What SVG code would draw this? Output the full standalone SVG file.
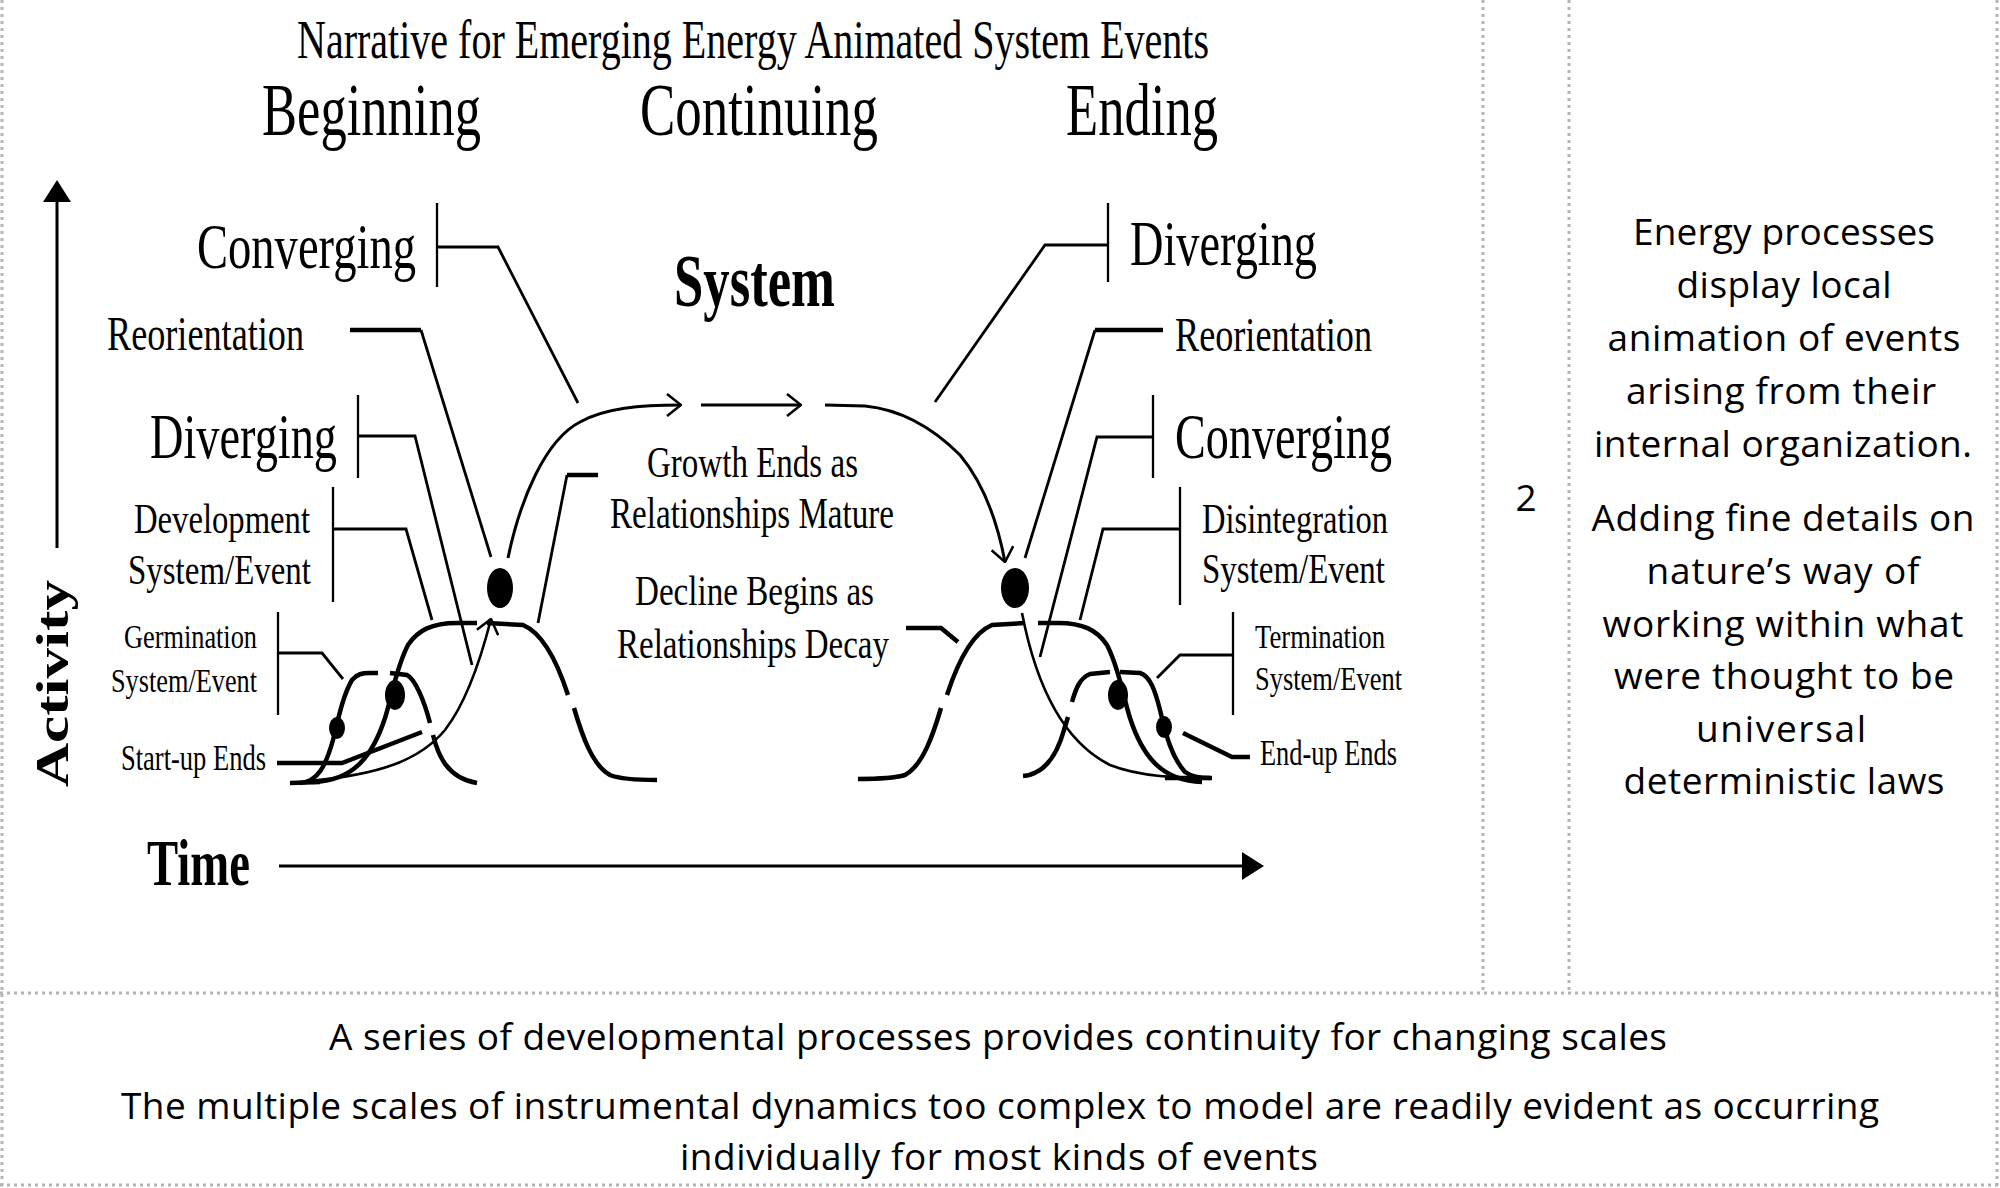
<svg xmlns="http://www.w3.org/2000/svg" width="2000" height="1188" viewBox="0 0 2000 1188">
<style>
.bg{fill:#ffffff}
.grid{stroke:#b4b4b4;stroke-width:3;stroke-dasharray:3 4;fill:none}
.ser{font-family:"Liberation Serif","Times New Roman",serif;fill:#000}
.bold{font-weight:bold}
.sans{font-family:"Open Sans","Liberation Sans",sans-serif;fill:#000;font-size:37px}
.ln{stroke:#000;fill:none;stroke-linecap:butt;stroke-linejoin:miter}
.br{stroke-width:2.3}
.ld{stroke-width:2.8}
.hv{stroke-width:4.5}
.cv{stroke-width:4.5}
.tn{stroke-width:2.6}
.ar{stroke-width:3}
.dot{fill:#000}
</style>
<defs>
<marker id="vArrow" viewBox="0 0 16 24" refX="15" refY="12" markerWidth="16" markerHeight="24" markerUnits="userSpaceOnUse" orient="auto"><path d="M1,1 L15,12 L1,23" fill="none" stroke="#000" stroke-width="2.5"/></marker>
<marker id="axisArrow" viewBox="0 0 22 28" refX="1" refY="14" markerWidth="22" markerHeight="28" markerUnits="userSpaceOnUse" orient="auto"><path d="M0,0 L22,14 L0,28 Z" fill="#000"/></marker>
</defs>
<rect class="bg" x="0" y="0" width="2000" height="1188"/>

<g id="table-grid">
<line class="grid" x1="2" y1="0" x2="2" y2="1186"/>
<line class="grid" x1="1997" y1="0" x2="1997" y2="1186"/>
<line class="grid" x1="1483" y1="0" x2="1483" y2="993"/>
<line class="grid" x1="1569" y1="0" x2="1569" y2="993"/>
<line class="grid" x1="0" y1="993" x2="2000" y2="993"/>
<line class="grid" x1="0" y1="1185" x2="2000" y2="1185"/>
</g>

<g id="title"><text class="ser" x="297" y="58" font-size="54" textLength="912" lengthAdjust="spacingAndGlyphs">Narrative for Emerging Energy Animated System Events</text></g>
<g id="phase-beginning"><text class="ser" x="262" y="135" font-size="74" textLength="219" lengthAdjust="spacingAndGlyphs">Beginning</text></g>
<g id="phase-continuing"><text class="ser" x="640" y="135" font-size="74" textLength="238" lengthAdjust="spacingAndGlyphs">Continuing</text></g>
<g id="phase-ending"><text class="ser" x="1066" y="135" font-size="74" textLength="152" lengthAdjust="spacingAndGlyphs">Ending</text></g>

<g id="axis-activity"><text class="ser bold" transform="translate(68,787) rotate(-90)" font-size="47" textLength="207" lengthAdjust="spacingAndGlyphs">Activity</text></g>
<g id="axis-time"><text class="ser bold" x="147" y="885" font-size="65" textLength="103" lengthAdjust="spacingAndGlyphs">Time</text></g>

<g id="system-label"><text class="ser bold" x="674" y="306" font-size="74" textLength="161" lengthAdjust="spacingAndGlyphs">System</text></g>

<g id="left-converging"><text class="ser" x="197" y="268" font-size="64" textLength="219" lengthAdjust="spacingAndGlyphs">Converging</text><line class="ln br" x1="437" y1="203" x2="437" y2="287"/></g>
<g id="left-reorientation"><text class="ser" x="107" y="350" font-size="48" textLength="197" lengthAdjust="spacingAndGlyphs">Reorientation</text></g>
<g id="left-diverging"><text class="ser" x="150" y="458" font-size="64" textLength="187" lengthAdjust="spacingAndGlyphs">Diverging</text><line class="ln br" x1="358" y1="395" x2="358" y2="478"/></g>
<g id="left-development"><text class="ser" x="134" y="533" font-size="42" textLength="176" lengthAdjust="spacingAndGlyphs">Development</text><text class="ser" x="128" y="584" font-size="42" textLength="183" lengthAdjust="spacingAndGlyphs">System/Event</text><line class="ln br" x1="333" y1="487" x2="333" y2="602"/></g>
<g id="left-germination"><text class="ser" x="124" y="648" font-size="34" textLength="133" lengthAdjust="spacingAndGlyphs">Germination</text><text class="ser" x="111" y="692" font-size="34" textLength="146" lengthAdjust="spacingAndGlyphs">System/Event</text><line class="ln br" x1="278" y1="612" x2="278" y2="715"/></g>
<g id="left-startup"><text class="ser" x="121" y="770" font-size="35" textLength="145" lengthAdjust="spacingAndGlyphs">Start-up Ends</text></g>

<g id="growth-ends"><text class="ser" x="647" y="477" font-size="44" textLength="211" lengthAdjust="spacingAndGlyphs">Growth Ends as</text><text class="ser" x="610" y="528" font-size="44" textLength="284" lengthAdjust="spacingAndGlyphs">Relationships Mature</text></g>
<g id="decline-begins"><text class="ser" x="635" y="605" font-size="43" textLength="239" lengthAdjust="spacingAndGlyphs">Decline Begins as</text><text class="ser" x="617" y="658" font-size="43" textLength="272" lengthAdjust="spacingAndGlyphs">Relationships Decay</text></g>

<g id="right-diverging"><text class="ser" x="1130" y="265" font-size="64" textLength="187" lengthAdjust="spacingAndGlyphs">Diverging</text><line class="ln br" x1="1108" y1="203" x2="1108" y2="282"/></g>
<g id="right-reorientation"><text class="ser" x="1175" y="351" font-size="48" textLength="197" lengthAdjust="spacingAndGlyphs">Reorientation</text></g>
<g id="right-converging"><text class="ser" x="1175" y="458" font-size="64" textLength="217" lengthAdjust="spacingAndGlyphs">Converging</text><line class="ln br" x1="1153" y1="395" x2="1153" y2="478"/></g>
<g id="right-disintegration"><text class="ser" x="1202" y="533" font-size="42" textLength="186" lengthAdjust="spacingAndGlyphs">Disintegration</text><text class="ser" x="1202" y="583" font-size="42" textLength="183" lengthAdjust="spacingAndGlyphs">System/Event</text><line class="ln br" x1="1180" y1="487" x2="1180" y2="605"/></g>
<g id="right-termination"><text class="ser" x="1255" y="648" font-size="34" textLength="130" lengthAdjust="spacingAndGlyphs">Termination</text><text class="ser" x="1255" y="690" font-size="34" textLength="147" lengthAdjust="spacingAndGlyphs">System/Event</text><line class="ln br" x1="1233" y1="612" x2="1233" y2="715"/></g>
<g id="right-endup"><text class="ser" x="1260" y="765" font-size="35" textLength="137" lengthAdjust="spacingAndGlyphs">End-up Ends</text></g>

<g id="left-curves">
<path class="ln cv" d="M290,783 L320,782"/>
<path class="ln cv" d="M300,783 C318,782 326,765 333,740 C338,720 343,695 352,680 C357,674 362,673 370,673 L378,673"/>
<path class="ln cv" d="M390,673 L407,675 C415,679 424,700 430,723"/>
<path class="ln cv" d="M433,735 C438,755 447,778 477,783"/>
<path class="ln cv" d="M313,782 C352,781 372,758 385,718 C392,696 396,668 408,645 C418,630 432,623 457,623 L477,623"/>
<path class="ln cv" d="M487,623 L523,625 C540,632 555,655 568,695"/>
<path class="ln cv" d="M574,708 C582,735 592,765 610,775 C620,779 635,780 657,780"/>
<ellipse class="dot" cx="337" cy="728" rx="8" ry="11"/>
<ellipse class="dot" cx="395" cy="695" rx="10" ry="15"/>
<ellipse class="dot" cx="500" cy="588" rx="13" ry="20"/>
</g>

<g id="right-curves">
<path class="ln cv" d="M858,779 C880,779 895,778 905,775 C923,765 933,735 941,708"/>
<path class="ln cv" d="M947,695 C960,655 975,632 992,625 L1025,623"/>
<path class="ln cv" d="M1038,623 L1058,623 C1083,623 1097,630 1107,645 C1119,668 1123,696 1130,718 C1143,758 1163,781 1202,782"/>
<path class="ln cv" d="M1023,776 C1045,774 1057,755 1064,730 L1068,717"/>
<path class="ln cv" d="M1072,702 C1076,688 1080,678 1090,674 L1110,672"/>
<path class="ln cv" d="M1120,672 L1140,673 C1150,676 1155,690 1160,710 C1165,730 1170,755 1185,772 C1192,777 1200,778 1210,778"/>
<path class="ln cv" d="M1165,778 L1212,778"/>
<ellipse class="dot" cx="1015" cy="588" rx="14" ry="20"/>
<ellipse class="dot" cx="1118" cy="695" rx="10" ry="15"/>
<ellipse class="dot" cx="1164" cy="727" rx="8" ry="11"/>
</g>

<g id="number-cell"><text class="sans" x="1526" y="511" text-anchor="middle">2</text></g>

<g id="side-note">
<text class="sans" x="1784" y="245" text-anchor="middle" textLength="302">Energy processes</text>
<text class="sans" x="1784" y="298" text-anchor="middle" textLength="215">display local</text>
<text class="sans" x="1784" y="351" text-anchor="middle" textLength="353">animation of events</text>
<text class="sans" x="1781" y="404" text-anchor="middle" textLength="310">arising from their</text>
<text class="sans" x="1783" y="457" text-anchor="middle" textLength="378">internal organization.</text>
<text class="sans" x="1783" y="531" text-anchor="middle" textLength="383">Adding fine details on</text>
<text class="sans" x="1783" y="584" text-anchor="middle" textLength="273">nature’s way of</text>
<text class="sans" x="1783" y="637" text-anchor="middle" textLength="361">working within what</text>
<text class="sans" x="1784" y="689" text-anchor="middle" textLength="340">were thought to be</text>
<text class="sans" x="1781" y="742" text-anchor="middle" textLength="170">universal</text>
<text class="sans" x="1784" y="794" text-anchor="middle" textLength="321">deterministic laws</text>
</g>

<g id="footer">
<text class="sans" x="998" y="1050" text-anchor="middle" textLength="1338">A series of developmental processes provides continuity for changing scales</text>
<text class="sans" x="1000" y="1119" text-anchor="middle" textLength="1758">The multiple scales of instrumental dynamics too complex to model are readily evident as occurring</text>
<text class="sans" x="999" y="1170" text-anchor="middle" textLength="638">individually for most kinds of events</text>
</g>

<g id="connectors">
<line class="ln ar" x1="57" y1="548" x2="57" y2="201" marker-end="url(#axisArrow)"/>
<line class="ln ar" x1="279" y1="866" x2="1243" y2="866" marker-end="url(#axisArrow)"/>
<path class="ln ld" d="M437,247 L498,247 L578,403"/>
<path class="ln hv" d="M350,330 L421,330"/>
<path class="ln ld" d="M421,330 L491,557"/>
<path class="ln ld" d="M358,436 L415,436 L472,665"/>
<path class="ln ld" d="M333,529 L406,529 L432,620"/>
<path class="ln ld" d="M278,653 L322,653 L343,679"/>
<path class="ln hv" d="M277,763 L342,763 L422,732"/>
<path class="ln hv" d="M598,475 L567,475"/>
<path class="ln ld" d="M567,475 L538,623"/>
<path class="ln ld" d="M1108,245 L1045,245 L935,402"/>
<path class="ln hv" d="M1163,330 L1095,330"/>
<path class="ln ld" d="M1095,330 L1025,558"/>
<path class="ln ld" d="M1153,437 L1097,437 L1040,657"/>
<path class="ln ld" d="M1180,529 L1103,529 L1080,620"/>
<path class="ln ld" d="M1233,655 L1180,655 L1157,678"/>
<path class="ln hv" d="M1250,757 L1232,757 L1183,733"/>
<path class="ln hv" d="M906,628 L941,628 L958,642"/>
<path class="ln tn" d="M307,781 C380,775 420,760 445,730 C462,708 478,670 491,619" marker-end="url(#vArrow)"/>
<path class="ln ar" d="M508,558 C520,500 545,440 580,422 C605,408 640,405 681,405" marker-end="url(#vArrow)"/>
<path class="ln ar" d="M701,405 L801,405" marker-end="url(#vArrow)"/>
<path class="ln ar" d="M825,405 L865,406 C905,410 935,430 960,455 C985,485 998,525 1005,562" marker-end="url(#vArrow)"/>
<path class="ln tn" d="M1022,613 C1035,680 1060,740 1110,765 C1140,777 1180,778 1210,778"/>
</g>
</svg>
